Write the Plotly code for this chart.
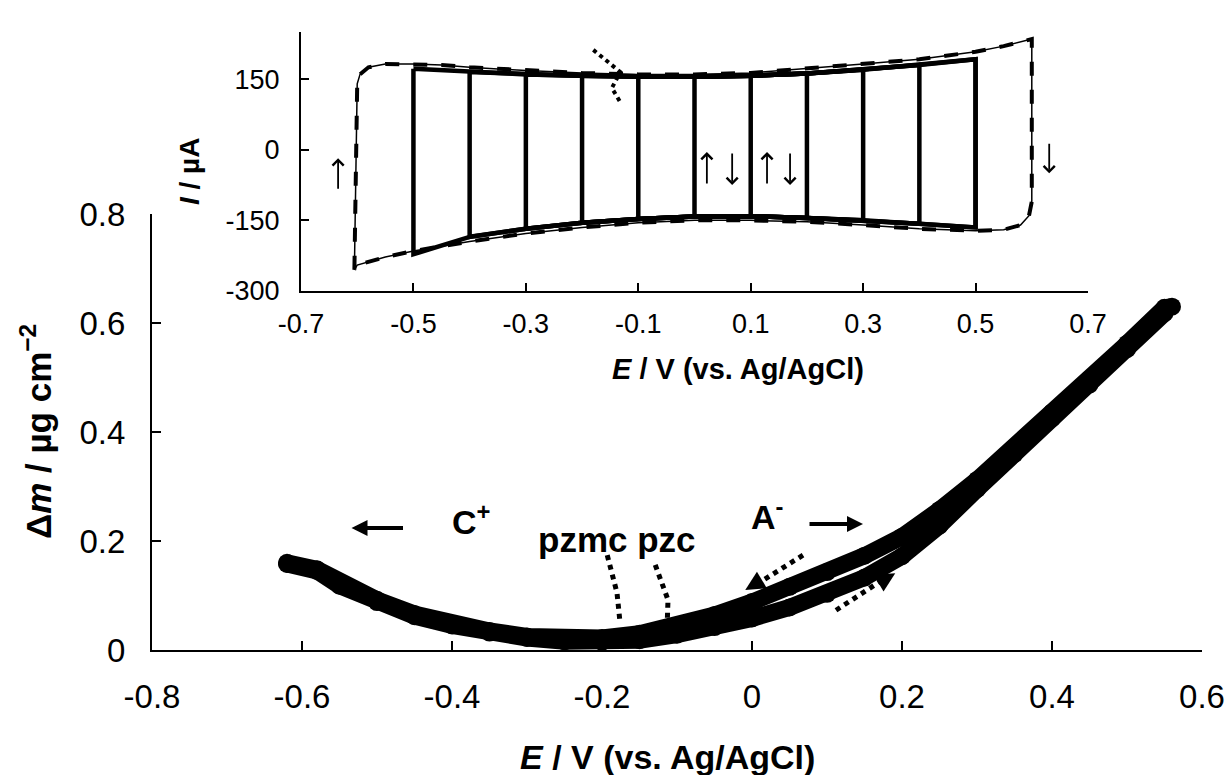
import plotly.graph_objects as go

# main EQCM curve, positive-going scan (lower branch at E > 0)
E_fwd = [-0.62, -0.58, -0.55, -0.50, -0.45, -0.40, -0.35, -0.30, -0.25, -0.20, -0.15, -0.10,
         -0.05, 0.00, 0.05, 0.10, 0.15, 0.20, 0.25, 0.30, 0.35, 0.40, 0.45, 0.50, 0.55]
m_fwd = [0.158, 0.145, 0.118, 0.088, 0.062, 0.045, 0.032, 0.022, 0.016, 0.015, 0.018, 0.028,
         0.042, 0.058, 0.078, 0.103, 0.133, 0.172, 0.228, 0.295, 0.360, 0.425, 0.487, 0.552, 0.618]
# negative-going scan (upper branch)
E_rev = [0.56, 0.55, 0.50, 0.45, 0.40, 0.35, 0.30, 0.25, 0.20, 0.15, 0.10, 0.05, 0.00,
         -0.05, -0.10, -0.15, -0.20, -0.25, -0.30, -0.35, -0.40, -0.45, -0.50, -0.55, -0.58, -0.62]
m_rev = [0.630, 0.628, 0.562, 0.497, 0.436, 0.372, 0.312, 0.257, 0.208, 0.173, 0.143, 0.116, 0.088,
         0.064, 0.045, 0.030, 0.022, 0.020, 0.025, 0.035, 0.048, 0.066, 0.092, 0.122, 0.148, 0.160]

# inset: widest CV (-0.6 ... 0.6 V)
E_outer = [-0.605, -0.600, -0.595, -0.58, -0.55, -0.50, -0.45, -0.40, -0.30, -0.20, -0.10, 0.00,
           0.10, 0.20, 0.30, 0.40, 0.50, 0.55, 0.59, 0.600,
           0.600, 0.595, 0.58, 0.55, 0.50, 0.40, 0.30, 0.20, 0.10, 0.00, -0.10, -0.20,
           -0.30, -0.40, -0.50, -0.55, -0.60, -0.605]
I_outer = [-255, 140, 160, 175, 182, 182, 180, 175, 168, 163, 160, 160,
           163, 172, 182, 192, 208, 220, 232, 235,
           -110, -140, -160, -170, -172, -168, -160, -153, -150, -150, -155, -165,
           -178, -195, -215, -228, -245, -255]

# inset: narrower CVs, current envelope read at each 0.1 V
cv_E = [-0.5, -0.4, -0.3, -0.2, -0.1, 0.0, 0.1, 0.2, 0.3, 0.4, 0.5]
cv_up = [172, 165, 160, 157, 155, 155, 157, 162, 170, 180, 192]
cv_dn = [-222, -185, -168, -155, -147, -142, -141, -145, -150, -157, -165]
cv_lo = [0.0, -0.1, -0.2, -0.3, -0.4, -0.5]
cv_hi = [0.1, 0.2, 0.3, 0.4, 0.5, 0.5]

main_xticks = [-0.8, -0.6, -0.4, -0.2, 0, 0.2, 0.4, 0.6]
main_xlabels = ['-0.8', '-0.6', '-0.4', '-0.2', '0', '0.2', '0.4', '0.6']
main_yticks = [0, 0.2, 0.4, 0.6, 0.8]
main_ylabels = ['0', '0.2', '0.4', '0.6', '0.8']
ins_xticks = [-0.7, -0.5, -0.3, -0.1, 0.1, 0.3, 0.5, 0.7]
ins_xlabels = ['-0.7', '-0.5', '-0.3', '-0.1', '0.1', '0.3', '0.5', '0.7']
ins_yticks = [-300, -150, 0, 150]
ins_ylabels = ['-300', '-150', '0', '150']

FONT = 'Liberation Sans, Arial, sans-serif'

fig = go.Figure()

for ex, my in [(E_fwd, m_fwd), (E_rev, m_rev)]:
    fig.add_trace(go.Scatter(
        x=ex, y=my, mode='lines+markers',
        line=dict(color='black', width=17),
        marker=dict(color='black', size=18),
        cliponaxis=False, showlegend=False
        ))

# build the nested CV loops
loop_x, loop_y = [], []
for lo, hi in zip(cv_lo, cv_hi):
    idx = [i for i, e in enumerate(cv_E) if lo - 1e-9 <= e <= hi + 1e-9]
    loop_x += [cv_E[i] for i in idx] + [cv_E[i] for i in reversed(idx)] + [cv_E[idx[0]], None]
    loop_y += [cv_up[i] for i in idx] + [cv_dn[i] for i in reversed(idx)] + [cv_up[idx[0]], None]

fig.add_trace(go.Scatter(x=E_outer, y=I_outer, mode='lines', xaxis='x2', yaxis='y2',
                         line=dict(color='black', width=1.5), showlegend=False))
fig.add_trace(go.Scatter(x=E_outer, y=I_outer, mode='lines', xaxis='x2', yaxis='y2',
                         line=dict(color='black', width=4, dash='14px,14px'), showlegend=False))
fig.add_trace(go.Scatter(x=loop_x, y=loop_y, mode='lines', xaxis='x2', yaxis='y2',
                         line=dict(color='black', width=4.5), showlegend=False))

axis_style = dict(showline=True, linecolor='black', linewidth=2, ticks='inside',
                  tickcolor='black', tickwidth=1.5, showgrid=False, zeroline=False,
                  tickmode='array', automargin=False)

fig.update_layout(
    width=1229, height=775, autosize=False,
    margin=dict(l=0, r=0, t=0, b=0, pad=0, autoexpand=False),
    paper_bgcolor='white', plot_bgcolor='rgba(0,0,0,0)',
    font=dict(family=FONT, color='black'),
    xaxis=dict(axis_style, domain=[152/1229, 1202/1229], range=[-0.8, 0.6],
               tickvals=main_xticks, ticktext=main_xlabels, ticklen=9,
               tickfont=dict(size=33), ticklabelstandoff=16),
    yaxis=dict(axis_style, domain=[1-650/775, 1-214/775], range=[0, 0.8],
               tickvals=main_yticks, ticktext=main_ylabels, ticklen=9,
               tickfont=dict(size=33), ticklabelstandoff=18),
    xaxis2=dict(axis_style, domain=[301/1229, 1088/1229], range=[-0.7, 0.7], anchor='y2',
                tickvals=ins_xticks, ticktext=ins_xlabels, ticklen=8,
                tickfont=dict(size=27), ticklabelstandoff=8),
    yaxis2=dict(axis_style, domain=[1-291/775, 1-32/775], range=[-300, 250], anchor='x2',
                tickvals=ins_yticks, ticktext=ins_ylabels, ticklen=8,
                tickfont=dict(size=27), ticklabelstandoff=14),
)

# axis titles (anchors set explicitly, paper refs otherwise snap to edges)
title_pos = dict(xref='paper', yref='paper', xanchor='center', yanchor='middle', showarrow=False)
fig.add_annotation(text='<b><i>E</i> / V (vs. Ag/AgCl)</b>', x=667/1229, y=1-757/775,
                   font=dict(size=34), **title_pos)
fig.add_annotation(text='<b>Δ<i>m</i> / µg cm<sup>−2</sup></b>', x=36/1229, y=1-432/775,
                   textangle=-90, font=dict(size=35), **title_pos)
fig.add_annotation(text='<b><i>E</i> / V (vs. Ag/AgCl)</b>', x=738/1229, y=1-369/775,
                   font=dict(size=29), **title_pos)
fig.add_annotation(text='<b><i>I</i> / µA</b>', x=189/1229, y=1-172/775,
                   textangle=-90, font=dict(size=28), **title_pos)

# labels in the main plot
fig.add_annotation(text='<b>C<sup>+</sup></b>', x=-0.375, y=0.24, showarrow=False, font=dict(size=34))
fig.add_annotation(text='<b>pzmc pzc</b>', x=-0.18, y=0.202, showarrow=False, font=dict(size=35))
fig.add_annotation(text='<b>A<sup>-</sup></b>', x=0.02, y=0.248, showarrow=False, font=dict(size=34))
fig.add_annotation(text='', x=-0.534, y=0.224, ax=53, ay=0, showarrow=True,
                   arrowhead=2, arrowwidth=4, arrowsize=0.8, arrowcolor='black')
fig.add_annotation(text='', x=0.148, y=0.231, ax=-55, ay=0, showarrow=True,
                   arrowhead=2, arrowwidth=4, arrowsize=0.8, arrowcolor='black')

# dotted guide lines and dotted arrows
dot = dict(color='black', width=5, dash='dot')
fig.add_shape(type='path', xref='x', yref='y', line=dot,
              path='M -0.193,0.174 L -0.18,0.105 L -0.176,0.051')
fig.add_shape(type='path', xref='x', yref='y', line=dot,
              path='M -0.129,0.156 L -0.112,0.092 L -0.113,0.051')
fig.add_shape(type='line', xref='x', yref='y', line=dot, x0=0.068, y0=0.174, x1=0.002, y1=0.117)
fig.add_shape(type='line', xref='x', yref='y', line=dot, x0=0.112, y0=0.073, x1=0.18, y1=0.134)
fig.add_annotation(text='', x=-0.009, y=0.110, ax=10, ay=-6, showarrow=True,
                   arrowhead=2, arrowwidth=3, arrowsize=1.3, arrowcolor='black')
fig.add_annotation(text='', x=0.191, y=0.141, ax=-10, ay=6, showarrow=True,
                   arrowhead=2, arrowwidth=3, arrowsize=1.3, arrowcolor='black')

# inset labels and arrows
fig.add_annotation(text='<b>pzc</b>', xref='x2', yref='y2', x=-0.163, y=252,
                   showarrow=False, font=dict(size=30))
fig.add_shape(type='path', xref='x2', yref='y2', line=dict(color='black', width=4, dash='dot'),
              path='M -0.180,212 L -0.132,165 L -0.147,131 L -0.132,101')
for ex, head, ay in [(-0.634, -18, 32), (0.022, -5, 33), (0.067, -75, -33),
                     (0.129, -5, 33), (0.170, -75, -33), (0.631, -50, -31)]:
    fig.add_annotation(text='', xref='x2', yref='y2', x=ex, y=head, ax=0, ay=ay,
                       showarrow=True, arrowhead=4, arrowwidth=1.8, arrowsize=1.2,
                       arrowcolor='black')

# page body has an 8px default margin, drop it so the figure sits at the corner
fig.write_html("out.html", config={'displayModeBar': False},
               post_script="document.body.style.margin='0';")
